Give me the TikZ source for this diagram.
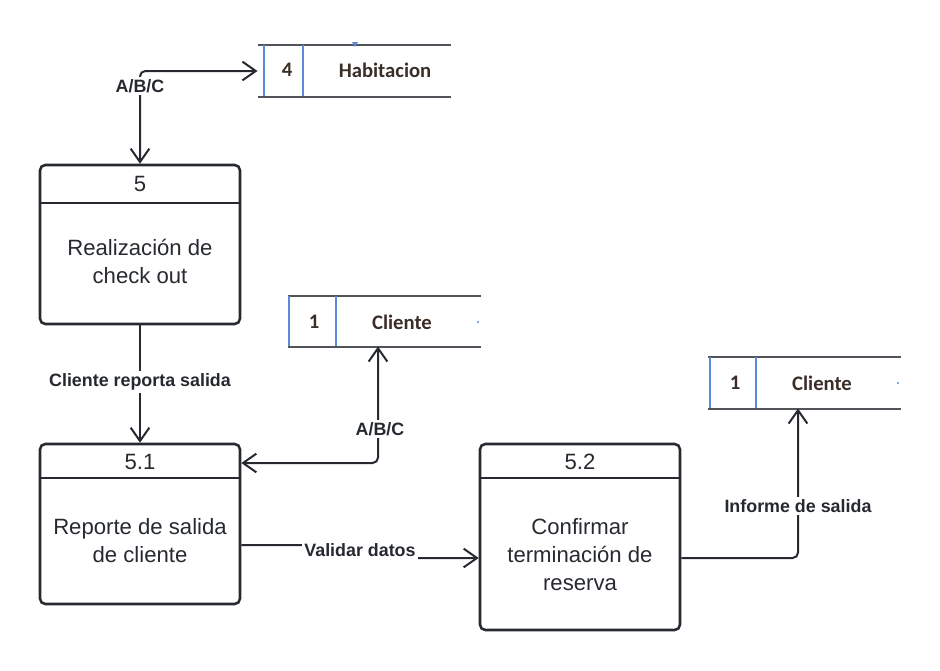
\documentclass[tikz,border=0pt]{standalone}
\usepackage{fontspec}
\setmainfont{Liberation Sans}
\newfontfamily\storefont{Carlito}
\usetikzlibrary{arrows.meta}
\definecolor{ink}{HTML}{262A30}
\definecolor{storeblue}{HTML}{5B8AD6}
\definecolor{storetext}{HTML}{3B2E28}
\tikzset{every picture/.style={line width=0.75pt}}
\tikzset{
  procbox/.style={draw=ink, line width=1.9pt, rounded corners=4pt, minimum width=150pt, inner sep=0pt},
  flow/.style={draw=ink, line width=1.5pt, rounded corners=4pt},
  tip/.style={-{Straight Barb[length=10pt,width=14pt,line width=1.5pt]}},
  tips/.style={{Straight Barb[length=10pt,width=14pt,line width=1.5pt]}-{Straight Barb[length=10pt,width=14pt,line width=1.5pt]}},
  flowlabel/.style={fill=white, inner xsep=1.5pt, inner ysep=2pt, font=\fontsize{13.4}{15}\selectfont\bfseries, text=ink},
  boxtext/.style={font=\fontsize{16.6}{21}\selectfont, text=ink, align=center},
  storeline/.style={draw=ink!80, line width=1.5pt},
  storebar/.style={draw=storeblue, line width=1.1pt},
  storelabel/.style={font=\storefont\fontsize{15.5}{17}\selectfont\bfseries, text=storetext}
}
\begin{document}
\begin{tikzpicture}[x=0.75pt, y=-0.75pt]
\useasboundingbox (0,0) rectangle (940,671);

% processes
\node[procbox, minimum height=119.25pt] (p5) at (140,244.5) {};
\node[procbox, minimum height=120pt] (p51) at (140,524) {};
\node[procbox, minimum height=139.5pt] (p52) at (580,537) {};
\draw[ink, line width=1.9pt] (p5.west |- 0,203) -- (p5.east |- 0,203);
\draw[ink, line width=1.9pt] (p51.west |- 0,478) -- (p51.east |- 0,478);
\draw[ink, line width=1.9pt] (p52.west |- 0,478) -- (p52.east |- 0,478);
\node[boxtext] (n5) at (140,184) {5};
\node[boxtext] (t5) at (140,261) {Realización de\\check out};
\node[boxtext] (n51) at (140,462) {5.1};
\node[boxtext] (t51) at (140,541) {Reporte de salida\\de cliente};
\node[boxtext] (n52) at (580,462) {5.2};
\node[boxtext] (t52) at (580,555) {Confirmar\\terminación de\\reserva};

% data stores
\node[inner sep=0pt, minimum width=144pt, minimum height=38.25pt] (hab) at (354,70.5) {};
\draw[storeline] (hab.north west) -- (hab.north east);
\draw[storeline] (hab.south west) -- (hab.south east);
\draw[storebar] (264,45) -- (264,96);
\draw[storebar] (303,45) -- (303,96);
\node[storelabel] (hab4) at (287,70) {4};
\node[storelabel] (habt) at (385,70) {Habitacion};
\fill[storeblue] (352,42) -- (358,42) -- (355,47) -- cycle;

\node[inner sep=0pt, minimum width=144pt, minimum height=37.5pt] (cli) at (384,321) {};
\draw[storeline] (cli.north west) -- (cli.north east);
\draw[storeline] (cli.south west) -- (cli.south east);
\draw[storebar] (289,296) -- (289,346);
\draw[storebar] (336,296) -- (336,346);
\node[storelabel] (cli1) at (314,322) {1};
\node[storelabel] (clit) at (402,322) {Cliente};
\fill[storeblue] (478,322) circle (1.2);

\node[inner sep=0pt, minimum width=144pt, minimum height=38.25pt] (clib) at (804,382.5) {};
\draw[storeline] (clib.north west) -- (clib.north east);
\draw[storeline] (clib.south west) -- (clib.south east);
\draw[storebar] (710,357) -- (710,408);
\draw[storebar] (756,357) -- (756,408);
\node[storelabel] (clib1) at (735,383) {1};
\node[storelabel] (clibt) at (822,383) {Cliente};
\fill[storeblue] (898,383) circle (1.2);

% flows
\draw[flow, tips] (p5.north) -- (140,71) -- (hab.west |- 0,71);
\node[flowlabel] (l1) at (140,86) {A/B/C};

\draw[flow, tip] (p5.south) -- (p51.north);
\node[flowlabel] (l2) at (140,382) {Cliente reporta salida};

\draw[flow, tips] (cli.south -| 378,0) -- (378,463) -- (p51.east |- 0,463);
\node[flowlabel] (l3) at (380,429) {A/B/C};

\draw[flow, tip] (p51.east |- 0,545) -- (360,545) -- (360,558) -- (p52.west |- 0,558);
\node[flowlabel, inner ysep=4pt] (l4) at (360,550) {Validar datos};

\draw[flow, tip] (p52.east |- 0,558) -- (798,558) -- (clib.south -| 798,0);
\node[flowlabel] (l5) at (798,506) {Informe de salida};
\end{tikzpicture}
\end{document}
